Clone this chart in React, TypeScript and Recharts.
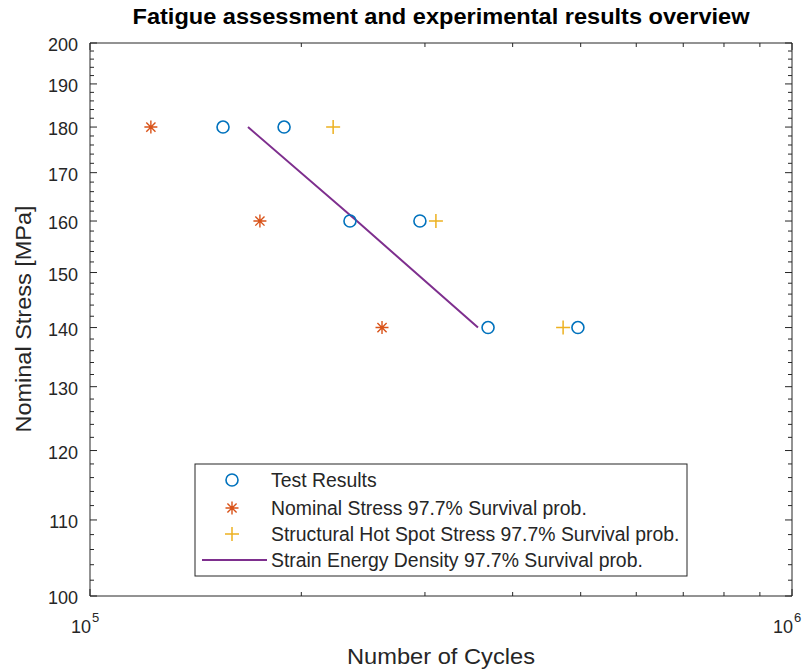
import React from 'react';
import { ScatterChart, Scatter, XAxis, YAxis, Customized } from 'recharts';

const FONT = '"Liberation Sans", Arial, Helvetica, sans-serif';
const AX = '#262626';

const chartTitle = 'Fatigue assessment and experimental results overview';
const xLabel = 'Number of Cycles';
const yLabel = 'Nominal Stress [MPa]';

const testResults = [
  { x: 154700, y: 180 },
  { x: 189000, y: 180 },
  { x: 234600, y: 160 },
  { x: 295100, y: 160 },
  { x: 369000, y: 140 },
  { x: 495500, y: 140 },
];
const nominalStress = [
  { x: 122100, y: 180 },
  { x: 174600, y: 160 },
  { x: 260600, y: 140 },
];
const hotSpotStress = [
  { x: 222000, y: 180 },
  { x: 311000, y: 160 },
  { x: 472000, y: 140 },
];
const strainEnergy = [
  { x: 167900, y: 180 },
  { x: 240000, y: 160 },
  { x: 357000, y: 140 },
];

const seriesNames = [
  'Test Results',
  'Nominal Stress 97.7% Survival prob.',
  'Structural Hot Spot Stress 97.7% Survival prob.',
  'Strain Energy Density 97.7% Survival prob.',
];

const xMajorTicks = [100000, 1000000];
const xMajorExponents = ['5', '6'];
const xMinorTicks = [200000, 300000, 400000, 500000, 600000, 700000, 800000, 900000];
const yMajorTicks = [100, 110, 120, 130, 140, 150, 160, 170, 180, 190, 200];
const yMinorTicks = [
  102, 104, 106, 108, 112, 114, 116, 118, 122, 124, 126, 128, 132, 134, 136, 138,
  142, 144, 146, 148, 152, 154, 156, 158, 162, 164, 166, 168, 172, 174, 176, 178,
  182, 184, 186, 188, 192, 194, 196, 198,
];
const xTicks = [...xMajorTicks, ...xMinorTicks].sort((a, b) => a - b);
const yTicks = [...yMajorTicks, ...yMinorTicks].sort((a, b) => a - b);

const BLUE = '#0072BD';
const ORANGE = '#D95319';
const YELLOW = '#EDB120';
const PURPLE = '#7E2F8E';

const MAJ = 7;
const MIN = 4;

const LeftTick = (p: any) => {
  const { x, y, payload } = p;
  const major = yMajorTicks.includes(payload.value);
  return (
    <g>
      <line x1={x} x2={x + (major ? MAJ : MIN)} y1={y} y2={y} stroke={AX} strokeWidth={1} />
      {major && (
        <text x={x - 12} y={y + 8} textAnchor="end" fontFamily={FONT} fontSize={18} fill={AX}>
          {payload.value}
        </text>
      )}
    </g>
  );
};

const RightTick = (p: any) => {
  const { x, y, payload } = p;
  const major = yMajorTicks.includes(payload.value);
  return <line x1={x} x2={x - (major ? MAJ : MIN)} y1={y} y2={y} stroke={AX} strokeWidth={1} />;
};

const BottomTick = (p: any) => {
  const { x, y, payload } = p;
  const idx = xMajorTicks.indexOf(payload.value);
  const major = idx >= 0;
  return (
    <g>
      <line x1={x} x2={x} y1={y} y2={y - (major ? MAJ : MIN)} stroke={AX} strokeWidth={1} />
      {major && (
        <g>
          <text x={x + 1} y={y + 37} textAnchor="end" fontFamily={FONT} fontSize={18} fill={AX}>
            10
          </text>
          <text x={x + 2} y={y + 26} textAnchor="start" fontFamily={FONT} fontSize={13} fill={AX}>
            {xMajorExponents[idx]}
          </text>
        </g>
      )}
    </g>
  );
};

const TopTick = (p: any) => {
  const { x, y, payload } = p;
  const major = xMajorTicks.includes(payload.value);
  return <line x1={x} x2={x} y1={y} y2={y + (major ? MAJ : MIN)} stroke={AX} strokeWidth={1} />;
};

const circleShape = (p: any) => (
  <circle cx={p.cx} cy={p.cy} r={6} fill="none" stroke={BLUE} strokeWidth={1.6} />
);
const asteriskPath = (cx: number, cy: number, r: number) => {
  const d = r * 0.7071;
  return `M${cx - r},${cy}L${cx + r},${cy}M${cx},${cy - r}L${cx},${cy + r}M${cx - d},${cy - d}L${cx + d},${cy + d}M${cx - d},${cy + d}L${cx + d},${cy - d}`;
};
const asteriskShape = (p: any) => (
  <path d={asteriskPath(p.cx, p.cy, 6.5)} stroke={ORANGE} strokeWidth={1.4} fill="none" />
);
const plusPath = (cx: number, cy: number, r: number) =>
  `M${cx - r},${cy}L${cx + r},${cy}M${cx},${cy - r}L${cx},${cy + r}`;
const plusShape = (p: any) => (
  <path d={plusPath(p.cx, p.cy, 7)} stroke={YELLOW} strokeWidth={1.5} fill="none" />
);
const noShape = () => <g />;

const Overlay = () => {
  const lx = 195;
  const ly = 464;
  const rows = [16, 44, 70, 96];
  const mx = 232;
  const tx = 271;
  return (
    <g>
      <text x={441} y={24} textAnchor="middle" fontFamily={FONT} fontWeight="bold" fontSize={22} fill="#000" textLength={617} lengthAdjust="spacingAndGlyphs">
        {chartTitle}
      </text>
      <text x={441} y={664} textAnchor="middle" fontFamily={FONT} fontSize={22} fill={AX} textLength={188} lengthAdjust="spacingAndGlyphs">
        {xLabel}
      </text>
      <text x={0} y={0} transform="translate(31,319) rotate(-90)" textAnchor="middle" fontFamily={FONT} fontSize={22} fill={AX} textLength={227} lengthAdjust="spacingAndGlyphs">
        {yLabel}
      </text>
      <rect x={lx} y={ly} width={492} height={112} fill="#fff" stroke={AX} strokeWidth={1} />
      <circle cx={mx} cy={ly + rows[0]} r={6} fill="none" stroke={BLUE} strokeWidth={1.6} />
      <path d={asteriskPath(mx, ly + rows[1], 6.5)} stroke={ORANGE} strokeWidth={1.4} fill="none" />
      <path d={plusPath(mx, ly + rows[2], 7)} stroke={YELLOW} strokeWidth={1.5} fill="none" />
      <line x1={202} x2={267} y1={ly + rows[3]} y2={ly + rows[3]} stroke={PURPLE} strokeWidth={2} />
      {seriesNames.map((n, i) => (
        <text key={n} x={tx} y={ly + rows[i] + 7} fontFamily={FONT} fontSize={19.4} fill={AX}>
          {n}
        </text>
      ))}
    </g>
  );
};

export default function App() {
  return (
    <div style={{ position: 'absolute', left: 0, top: 0, width: 810, height: 671, background: '#fff' }}>
      <ScatterChart width={810} height={671} margin={{ top: 0, right: 0, bottom: 0, left: 0 }}>
        <XAxis
          xAxisId="b"
          type="number"
          dataKey="x"
          scale="log"
          domain={[100000, 1000000]}
          allowDataOverflow
          ticks={xTicks}
          interval={0}
          tickSize={0}
          tickMargin={0}
          tickLine={false}
          tick={BottomTick}
          axisLine={{ stroke: AX, strokeWidth: 1 }}
          height={75}
          orientation="bottom"
        />
        <XAxis
          xAxisId="t"
          type="number"
          dataKey="x"
          scale="log"
          domain={[100000, 1000000]}
          allowDataOverflow
          ticks={xTicks}
          interval={0}
          tickSize={0}
          tickMargin={0}
          tickLine={false}
          tick={TopTick}
          axisLine={{ stroke: AX, strokeWidth: 1 }}
          height={43}
          orientation="top"
        />
        <YAxis
          yAxisId="l"
          type="number"
          dataKey="y"
          scale="log"
          domain={[100, 200]}
          allowDataOverflow
          ticks={yTicks}
          interval={0}
          tickSize={0}
          tickMargin={0}
          tickLine={false}
          tick={LeftTick}
          axisLine={{ stroke: AX, strokeWidth: 1 }}
          width={90}
          orientation="left"
        />
        <YAxis
          yAxisId="r"
          type="number"
          dataKey="y"
          scale="log"
          domain={[100, 200]}
          allowDataOverflow
          ticks={yTicks}
          interval={0}
          tickSize={0}
          tickMargin={0}
          tickLine={false}
          tick={RightTick}
          axisLine={{ stroke: AX, strokeWidth: 1 }}
          width={18}
          orientation="right"
        />
        <Scatter xAxisId="t" yAxisId="r" data={testResults} shape={noShape} isAnimationActive={false} />
        <Scatter xAxisId="b" yAxisId="l" data={strainEnergy} line={{ stroke: PURPLE, strokeWidth: 2 }} lineType="joint" shape={noShape} isAnimationActive={false} />
        <Scatter xAxisId="b" yAxisId="l" data={testResults} shape={circleShape} isAnimationActive={false} />
        <Scatter xAxisId="b" yAxisId="l" data={nominalStress} shape={asteriskShape} isAnimationActive={false} />
        <Scatter xAxisId="b" yAxisId="l" data={hotSpotStress} shape={plusShape} isAnimationActive={false} />
        <Customized component={Overlay} />
      </ScatterChart>
    </div>
  );
}
